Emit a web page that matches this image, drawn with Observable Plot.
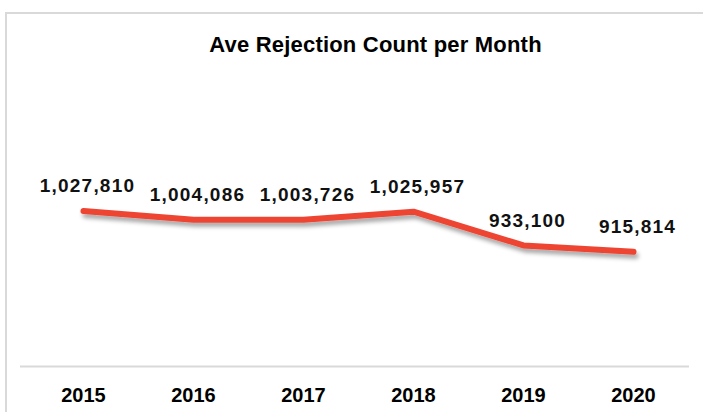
<!DOCTYPE html>
<html>
<head>
<meta charset="utf-8">
<script src="https://cdn.jsdelivr.net/npm/d3@7"></script>
<script src="https://cdn.jsdelivr.net/npm/@observablehq/plot@0.6"></script>
<style>
  html, body { margin: 0; padding: 0; background: #fff; width: 703px; height: 412px; overflow: hidden; }
  #frame { position: absolute; left: 5px; top: 12px; width: 720px; height: 420px; border: 2px solid #d9d9d9; box-sizing: border-box; }
  #title { position: absolute; left: 0; top: 32px; width: 751px; text-align: center; font-family: "Liberation Sans", Arial, sans-serif; font-weight: bold; font-size: 22px; color: #000; line-height: 25px; letter-spacing: 0.2px; }
  #chart { position: absolute; left: 0; top: 80px; }
</style>
</head>
<body>
<div id="frame"></div>
<div id="title">Ave Rejection Count per Month</div>
<div id="chart"></div>
<script>
const years = ["2015", "2016", "2017", "2018", "2019", "2020"];
const counts = [1027810, 1004086, 1003726, 1025957, 933100, 915814];
const yDomain = [600000, 1200000];

const data = years.map((year, i) => ({year, count: counts[i]}));
const fmt = d3.format(",");

const plot = Plot.plot({
  width: 703,
  height: 332,
  marginLeft: 26,
  marginRight: 14,
  marginTop: 68,
  marginBottom: 46,
  style: {fontFamily: "'Liberation Sans', Arial, sans-serif", fontSize: "20px", fontWeight: "bold", color: "#000", background: "transparent"},
  x: {type: "point", domain: years, padding: 0.5, label: null, tickSize: 0, tickPadding: 21},
  y: {domain: yDomain, axis: null},
  marks: [
    Plot.ruleY([yDomain[0]], {stroke: "#d9d9d9", strokeWidth: 2, insetLeft: -6}),
    Plot.line(data, {x: "year", y: "count", stroke: "#EE4433", strokeWidth: 6, strokeLinecap: "round", strokeLinejoin: "round"}),
    Plot.text(data, {x: "year", y: "count", text: d => fmt(d.count), dy: -25, dx: 4, fontSize: 19, fontWeight: "bold", fill: "#111"})
  ]
});

const svg = d3.select(plot);
const defs = svg.insert("defs", ":first-child");
const f = defs.append("filter").attr("id", "shadow").attr("x", "-10%").attr("y", "-50%").attr("width", "120%").attr("height", "200%");
f.append("feDropShadow").attr("dx", 2).attr("dy", 4).attr("stdDeviation", 2).attr("flood-color", "#000").attr("flood-opacity", 0.35);
svg.selectAll("g[aria-label='line'] path").attr("filter", "url(#shadow)");
svg.selectAll("g[aria-label='text'] text").style("letter-spacing", "1.2px");
document.getElementById("chart").appendChild(plot);
</script>
</body>
</html>
